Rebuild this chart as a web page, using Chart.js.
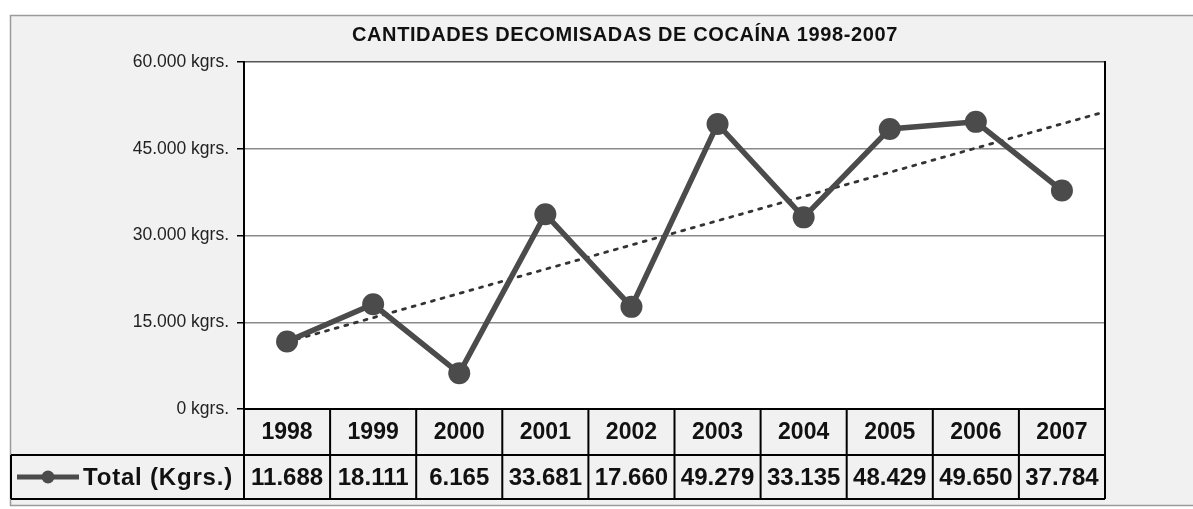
<!DOCTYPE html>
<html>
<head>
<meta charset="utf-8">
<script src="https://cdn.jsdelivr.net/npm/chart.js@4/dist/chart.umd.min.js"></script>
<style>
html,body{margin:0;padding:0;background:#fff;}
#wrap{width:1193px;height:509px;position:relative;}
</style>
</head>
<body>
<div id="wrap"><canvas id="c" width="1193" height="509"></canvas></div>
<script>
const titleText = 'CANTIDADES DECOMISADAS DE COCAÍNA 1998-2007';
const seriesName = 'Total (Kgrs.)';
const years = ['1998','1999','2000','2001','2002','2003','2004','2005','2006','2007'];
const totals = [11688, 18111, 6165, 33681, 17660, 49279, 33135, 48429, 49650, 37784];
// trendline endpoints (start at 1998, end at right edge of plot)
const trendX = [1, 10.5];
const trendY = [11600, 51400];
const yTicks = [0, 15000, 30000, 45000, 60000];

function fmt(v){
  const s = String(Math.round(v));
  return s.replace(/\B(?=(\d{3})+(?!\d))/g, '.');
}

const FONT = "'Liberation Sans', Arial, sans-serif";
const LINE_COLOR = '#4b4b4b';

const framePlugin = {
  id: 'frame',
  beforeDraw(chart){
    const ctx = chart.ctx, a = chart.chartArea;
    ctx.save();
    ctx.fillStyle = '#ffffff';
    ctx.fillRect(0,0,chart.width,chart.height);
    ctx.fillStyle = '#f1f1f1';
    ctx.fillRect(10,15,chart.width-10,491);
    ctx.strokeStyle = '#9a9a9a';
    ctx.lineWidth = 1.5;
    ctx.strokeRect(10.5,15.5,chart.width+10,490);
    ctx.fillStyle = '#ffffff';
    ctx.fillRect(a.left,a.top,a.right-a.left,a.bottom-a.top);
    // title
    ctx.fillStyle = '#111';
    ctx.font = 'bold 20px ' + FONT;
    ctx.textBaseline = 'alphabetic';
    ctx.textAlign = 'left';
    ctx.letterSpacing = '0.6px';
    ctx.fillText(titleText, 352, 41);
    ctx.restore();
  },
  afterDraw(chart){
    const ctx = chart.ctx, a = chart.chartArea, xs = chart.scales.x;
    ctx.save();
    ctx.strokeStyle = '#000';
    ctx.lineWidth = 2;
    // right border of plot
    ctx.beginPath();
    ctx.moveTo(a.right, a.top-1); ctx.lineTo(a.right, a.bottom);
    ctx.stroke();
    const rowTop = a.bottom, rowMid = a.bottom + 46, rowBot = a.bottom + 90;
    const bounds = [];
    for (let i = 0; i <= years.length; i++) bounds.push(xs.getPixelForValue(i + 0.5));
    // grid of the table
    ctx.beginPath();
    ctx.moveTo(bounds[0], rowTop); ctx.lineTo(a.right, rowTop);
    ctx.moveTo(11, rowMid); ctx.lineTo(a.right, rowMid);
    ctx.moveTo(11, rowBot); ctx.lineTo(a.right, rowBot);
    ctx.moveTo(11, rowMid); ctx.lineTo(11, rowBot);
    bounds.forEach(b => { ctx.moveTo(b, rowTop); ctx.lineTo(b, rowBot); });
    ctx.stroke();
    // texts
    ctx.fillStyle = '#111';
    ctx.textAlign = 'center';
    ctx.textBaseline = 'middle';
    ctx.font = 'bold 23px ' + FONT;
    years.forEach((y,i) => {
      const cx = (bounds[i] + bounds[i+1]) / 2;
      ctx.fillText(y, cx, (rowTop + rowMid) / 2 + 1);
    });
    ctx.font = 'bold 24px ' + FONT;
    totals.forEach((v,i) => {
      const cx = (bounds[i] + bounds[i+1]) / 2;
      ctx.fillText(fmt(v), cx, (rowMid + rowBot) / 2 + 1);
    });
    // legend key
    const ly = (rowMid + rowBot) / 2;
    ctx.strokeStyle = LINE_COLOR;
    ctx.lineWidth = 5;
    ctx.beginPath(); ctx.moveTo(17, ly); ctx.lineTo(79, ly); ctx.stroke();
    ctx.fillStyle = LINE_COLOR;
    ctx.beginPath(); ctx.arc(48, ly, 6.5, 0, Math.PI*2); ctx.fill();
    ctx.fillStyle = '#111';
    ctx.textAlign = 'left';
    ctx.font = 'bold 24px ' + FONT;
    ctx.letterSpacing = '0.8px';
    ctx.fillText(seriesName, 83, ly + 1);
    ctx.restore();
  }
};

new Chart(document.getElementById('c'), {
  type: 'line',
  data: {
    datasets: [
      {
        label: seriesName,
        data: totals.map((v,i) => ({x: i + 1, y: v})),
        borderColor: LINE_COLOR,
        backgroundColor: LINE_COLOR,
        borderWidth: 5.5,
        pointRadius: 11,
        pointBackgroundColor: LINE_COLOR,
        pointBorderColor: LINE_COLOR,
        pointBorderWidth: 0,
        tension: 0
      },
      {
        label: 'Tendencia',
        data: trendX.map((x,i) => ({x: x, y: trendY[i]})),
        borderColor: '#333',
        borderWidth: 2.8,
        borderDash: [3, 7],
        borderCapStyle: 'round',
        pointRadius: 0,
        tension: 0
      }
    ]
  },
  options: {
    responsive: false,
    animation: false,
    devicePixelRatio: 1,
    layout: { padding: { top: 62, right: 88, bottom: 100, left: 0 } },
    plugins: { legend: { display: false }, tooltip: { enabled: false }, title: { display: false } },
    scales: {
      x: { type: 'linear', min: 0.5, max: 10.5, display: false },
      y: {
        min: 0, max: 60000,
        afterBuildTicks(scale){ scale.ticks = yTicks.map(v => ({value: v})); },
        afterFit(scale){ scale.width = 244; },
        ticks: {
          padding: 8,
          color: '#222',
          font: { family: FONT, size: 17.5 },
          callback: v => fmt(v) + ' kgrs.'
        },
        grid: {
          drawTicks: true,
          tickLength: 7,
          tickColor: '#000',
          tickWidth: 1.5,
          lineWidth: 1.5,
          color: ctx => ctx.tick && ctx.tick.value === 0 ? 'rgba(0,0,0,0)' : (ctx.tick && ctx.tick.value === 60000 ? '#555' : '#8a8a8a')
        },
        border: { display: true, color: '#000', width: 2 }
      }
    }
  },
  plugins: [framePlugin]
});
</script>
</body>
</html>
